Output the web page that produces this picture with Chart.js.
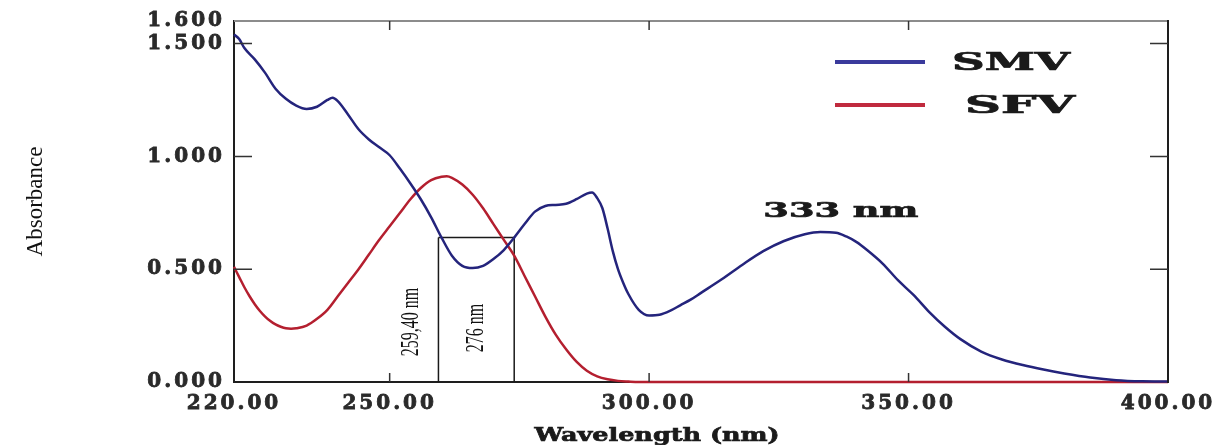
<!DOCTYPE html>
<html>
<head>
<meta charset="utf-8">
<script src="https://cdn.jsdelivr.net/npm/chart.js@4.4.1/dist/chart.umd.min.js"></script>
<style>
  html, body { margin: 0; padding: 0; background: #ffffff; }
  #wrap { width: 1219px; height: 445px; position: relative; }
</style>
</head>
<body>
<div id="wrap"><canvas id="c"></canvas></div>
<script>
// ---- data ----
const smvWavelength = [220,221,222,224,226,228,230,232,234,236,238,239,240,242,244,246,248,250,252,254,256,258,260,262,264,266,268,270,272,274,276,278,280,282,284,286,288,289,290,291,292,293,294,295,296,298,300,302,304,306,308,310,314,318,322,326,330,333,336,338,340,342,345,348,351,354,357,360,364,368,372,376,380,385,390,395,400];
const smvAbsorbance = [1.54,1.52,1.48,1.43,1.37,1.30,1.255,1.225,1.21,1.22,1.25,1.26,1.245,1.185,1.12,1.075,1.04,1.005,0.945,0.88,0.81,0.73,0.64,0.56,0.515,0.505,0.515,0.545,0.585,0.64,0.70,0.755,0.78,0.785,0.79,0.81,0.835,0.84,0.815,0.77,0.68,0.58,0.50,0.44,0.39,0.32,0.295,0.298,0.315,0.34,0.365,0.395,0.455,0.52,0.58,0.625,0.655,0.665,0.662,0.645,0.62,0.585,0.525,0.45,0.385,0.31,0.245,0.19,0.135,0.10,0.075,0.055,0.038,0.02,0.008,0.003,0.002];

const sfvWavelength = [220,221,222,223,224,225,226,227,228,229,230,231,232,234,236,238,240,242,244,246,248,250,252,254,256,258,260,261,262,264,266,268,270,272,274,276,278,280,282,284,286,288,290,292,294,296,298,300,400];
const sfvAbsorbance = [0.51,0.465,0.42,0.38,0.345,0.315,0.29,0.27,0.255,0.245,0.238,0.236,0.238,0.25,0.28,0.32,0.38,0.44,0.50,0.565,0.63,0.69,0.75,0.81,0.86,0.895,0.91,0.912,0.905,0.875,0.83,0.77,0.70,0.63,0.56,0.47,0.38,0.29,0.21,0.145,0.09,0.05,0.025,0.012,0.005,0.002,0,0,0];

const seriesNames = ['SMV', 'SFV'];
const xTickValues = [220, 250, 300, 350, 400];
const yTickValues = [0, 0.5, 1.0, 1.5, 1.6];
const xAxisTitle = 'Wavelength (nm)';
const yAxisTitle = 'Absorbance';
const markerWavelengths = [259.4, 274];
const markerLabels = ['259,40 nm', '276 nm'];
const markerLevel = 0.64;
const peakLabel = '333 nm';
const peakWavelength = 333;

// ---- helpers ----
const toPoints = (xs, ys) => xs.map((x, i) => ({ x: x, y: ys[i] }));
const fontBold = s => 'bold ' + s + 'px "DejaVu Serif"';

function stretchedText(ctx, text, x, y, font, targetWidth, align) {
  ctx.save();
  ctx.font = font;
  const w = ctx.measureText(text).width;
  const sx = targetWidth / w;
  ctx.translate(x, y);
  ctx.scale(sx, 1);
  ctx.textAlign = align || 'left';
  ctx.textBaseline = 'alphabetic';
  ctx.lineWidth = 0.7;
  ctx.strokeStyle = ctx.fillStyle;
  ctx.strokeText(text, 0, 0);
  ctx.fillText(text, 0, 0);
  ctx.restore();
}

const decorPlugin = {
  id: 'decor',
  afterLayout(chart) {
    ['x', 'y'].forEach(id => {
      const s = chart.scales[id];
      if (s && !s.__spaced) {
        const orig = s.drawLabels;
        s.drawLabels = function (ca) {
          const c = this.ctx;
          const prev = c.letterSpacing;
          c.letterSpacing = '3px';
          orig.call(this, ca);
          c.letterSpacing = prev || '0px';
        };
        s.__spaced = true;
      }
    });
  },
  beforeDatasetsDraw(chart) {
    const { ctx, scales: { x, y } } = chart;
    ctx.save();
    ctx.strokeStyle = '#1a1a1a';
    ctx.lineWidth = 1.5;
    const yTop = y.getPixelForValue(markerLevel);
    const yBot = y.getPixelForValue(0);
    const xs = markerWavelengths.map(w => x.getPixelForValue(w));
    ctx.beginPath();
    xs.forEach(px => { ctx.moveTo(px, yBot); ctx.lineTo(px, yTop); });
    ctx.moveTo(xs[0], yTop); ctx.lineTo(xs[1], yTop);
    ctx.stroke();
    ctx.fillStyle = '#111';
    const labelPos = [
      { cx: xs[0] - 27, cy: yBot - 60 },
      { cx: (xs[0] + xs[1]) / 2, cy: yBot - 54 }
    ];
    markerLabels.forEach((t, i) => {
      ctx.save();
      ctx.font = '16px "Liberation Serif"';
      ctx.translate(labelPos[i].cx, labelPos[i].cy);
      ctx.scale(1.6, 1);
      ctx.rotate(-Math.PI / 2);
      ctx.textAlign = 'center';
      ctx.textBaseline = 'middle';
      ctx.fillText(t, 0, 0);
      ctx.restore();
    });
    ctx.restore();
  },
  afterDatasetsDraw(chart) {
    const { ctx, chartArea: ca, scales: { x, y } } = chart;
    ctx.save();
    ctx.lineWidth = 2;
    ctx.strokeStyle = '#8c8c8c';
    ctx.beginPath(); ctx.moveTo(ca.left, ca.top); ctx.lineTo(ca.right, ca.top); ctx.stroke();
    ctx.strokeStyle = '#1e1e1e';
    ctx.beginPath(); ctx.moveTo(ca.right, ca.top - 1); ctx.lineTo(ca.right, ca.bottom + 1); ctx.stroke();
    ctx.lineWidth = 1.5;
    ctx.strokeStyle = '#333';
    ctx.beginPath();
    yTickValues.filter(v => v > 0 && v < 1.55).forEach(v => {
      const py = y.getPixelForValue(v);
      ctx.moveTo(ca.left, py); ctx.lineTo(ca.left + 18, py);
      ctx.moveTo(ca.right, py); ctx.lineTo(ca.right - 18, py);
    });
    xTickValues.filter(v => v > 220 && v < 400).forEach(v => {
      const px = x.getPixelForValue(v);
      ctx.moveTo(px, ca.bottom); ctx.lineTo(px, ca.bottom - 9);
      ctx.moveTo(px, ca.top); ctx.lineTo(px, ca.top + 9);
    });
    ctx.stroke();

    chart.data.datasets.forEach((ds, i) => {
      const ly = ca.top + 41 + i * 43;
      ctx.strokeStyle = ds.legendColor;
      ctx.lineWidth = 4;
      ctx.lineCap = 'butt';
      ctx.beginPath(); ctx.moveTo(ca.left + 601, ly); ctx.lineTo(ca.left + 691, ly); ctx.stroke();
      ctx.fillStyle = '#1a1a1a';
      stretchedText(ctx, ds.label, ca.left + 718 + i * 13, ly + 8, fontBold(24), i === 0 ? 118 : 110, 'left');
    });

    ctx.fillStyle = '#1a1a1a';
    const peakY = Math.max(...smvAbsorbance.filter((v, i) => smvWavelength[i] > 310));
    stretchedText(ctx, peakLabel, x.getPixelForValue(peakWavelength) - 57, y.getPixelForValue(peakY) - 15, fontBold(20), 155, 'left');

    stretchedText(ctx, xAxisTitle, (ca.left + ca.right) / 2 - 44, chart.height - 4, fontBold(19), 245, 'center');
    ctx.restore();
  }
};

const tickFont = { family: 'DejaVu Serif', weight: 'bold', size: 20 };
const ctx = document.getElementById('c').getContext('2d');
new Chart(ctx, {
  type: 'line',
  data: {
    datasets: [
      {
        label: seriesNames[0],
        data: toPoints(smvWavelength, smvAbsorbance),
        borderColor: '#24247c',
        legendColor: '#3a3a9c',
        borderWidth: 2.5,
        pointRadius: 0,
        cubicInterpolationMode: 'monotone',
        clip: false
      },
      {
        label: seriesNames[1],
        data: toPoints(sfvWavelength, sfvAbsorbance),
        borderColor: '#b41f2f',
        legendColor: '#c02a3e',
        borderWidth: 2.5,
        pointRadius: 0,
        cubicInterpolationMode: 'monotone',
        clip: false
      }
    ]
  },
  options: {
    responsive: true,
    maintainAspectRatio: false,
    animation: false,
    devicePixelRatio: 1,
    layout: { padding: { top: 21, right: 51, bottom: 0, left: 0 } },
    plugins: { legend: { display: false }, tooltip: { enabled: false } },
    scales: {
      x: {
        type: 'linear',
        min: 220,
        max: 400,
        afterBuildTicks: s => { s.ticks = xTickValues.map(v => ({ value: v })); },
        afterFit: s => { s.height = 63; },
        grid: { display: false, drawTicks: false },
        border: { display: true, color: '#1e1e1e', width: 2 },
        ticks: {
          autoSkip: false,
          maxRotation: 0,
          padding: 10,
          color: '#2a2a2a',
          textStrokeColor: '#2a2a2a',
          textStrokeWidth: 0.8,
          font: tickFont,
          callback: v => Number(v).toFixed(2)
        },
        title: { display: false }
      },
      y: {
        type: 'linear',
        min: 0,
        max: 1.6,
        afterBuildTicks: s => { s.ticks = yTickValues.map(v => ({ value: v })); },
        afterFit: s => { s.width = 234; },
        grid: { display: false, drawTicks: false },
        border: { display: true, color: '#1e1e1e', width: 2 },
        ticks: {
          autoSkip: false,
          padding: 9,
          color: '#2a2a2a',
          textStrokeColor: '#2a2a2a',
          textStrokeWidth: 0.8,
          font: tickFont,
          callback: v => Number(v).toFixed(3)
        },
        title: {
          display: true,
          text: yAxisTitle,
          color: '#111',
          font: { family: 'Liberation Serif', size: 23 },
          padding: { top: 22, bottom: 0 }
        }
      }
    }
  },
  plugins: [decorPlugin]
});
</script>
</body>
</html>
